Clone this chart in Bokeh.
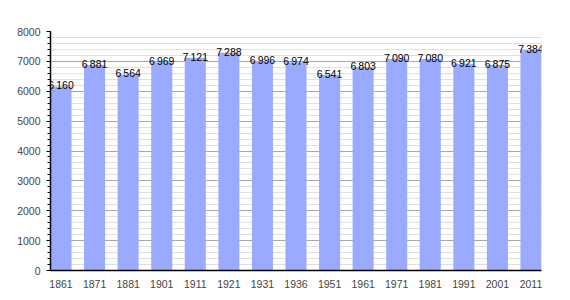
from bokeh.plotting import figure
from bokeh.models import ColumnDataSource, FixedTicker, Range1d
from bokeh.core.properties import value
from bokeh.embed import file_html
from bokeh.resources import INLINE

years = ["1861", "1871", "1881", "1901", "1911", "1921", "1931", "1936",
         "1951", "1961", "1971", "1981", "1991", "2001", "2011"]
population = [6160, 6881, 6564, 6969, 7121, 7288, 6996, 6974,
              6541, 6803, 7090, 7080, 6921, 6875, 7384]
y_ticks = [0, 1000, 2000, 3000, 4000, 5000, 6000, 7000, 8000]

xs = list(range(len(years)))
labels = ["{:,}".format(v).replace(",", "\u2009") for v in population]
src = ColumnDataSource(dict(x=xs, y=population, label=labels))

FONT = "Liberation Sans"
bar_w = 0.627
p = figure(width=570, height=300, output_backend="svg", toolbar_location=None,
           x_range=Range1d(-bar_w / 2, len(years) - 1 + bar_w / 2),
           y_range=Range1d(0, 8000),
           min_border_left=50, min_border_right=29, min_border_top=31, min_border_bottom=30)
p.outline_line_color = None
p.background_fill_color = "white"

p.vbar(x="x", top="y", width=bar_w, bottom=0, source=src,
       fill_color="#99aaff", line_color=None)
p.text(x="x", y="y", text="label", source=src, text_align="center",
       text_baseline="alphabetic", y_offset=-1,
       text_font=value(FONT), text_font_size="10.5px", text_color="black")

p.xgrid.visible = False
p.ygrid.grid_line_color = "#a8a8a8"
p.ygrid.grid_line_width = 1
p.ygrid.minor_grid_line_color = "#e0e0e0"
p.ygrid.minor_grid_line_width = 1
p.ygrid.level = "underlay"

p.yaxis.ticker = FixedTicker(ticks=y_ticks, minor_ticks=list(range(0, 8001, 200)))
p.yaxis.axis_line_color = "black"
p.yaxis.axis_line_width = 1.5
p.yaxis.major_tick_out = 4
p.yaxis.major_tick_in = 0
p.yaxis.minor_tick_out = 3
p.yaxis.minor_tick_in = 0
p.yaxis.major_tick_line_color = "black"
p.yaxis.minor_tick_line_color = "black"
p.yaxis.major_label_text_font = FONT
p.yaxis.major_label_text_font_size = "10.5px"
p.yaxis.major_label_standoff = 6

p.xaxis.ticker = FixedTicker(ticks=xs)
p.xaxis.major_label_overrides = {i: y for i, y in enumerate(years)}
p.xaxis.axis_line_color = "black"
p.xaxis.axis_line_width = 1.5
p.xaxis.major_tick_line_color = None
p.xaxis.minor_tick_line_color = None
p.xaxis.major_label_text_font = FONT
p.xaxis.major_label_text_font_size = "10.5px"
p.xaxis.major_label_standoff = 3

open("out.html", "w").write(file_html(p, INLINE))
